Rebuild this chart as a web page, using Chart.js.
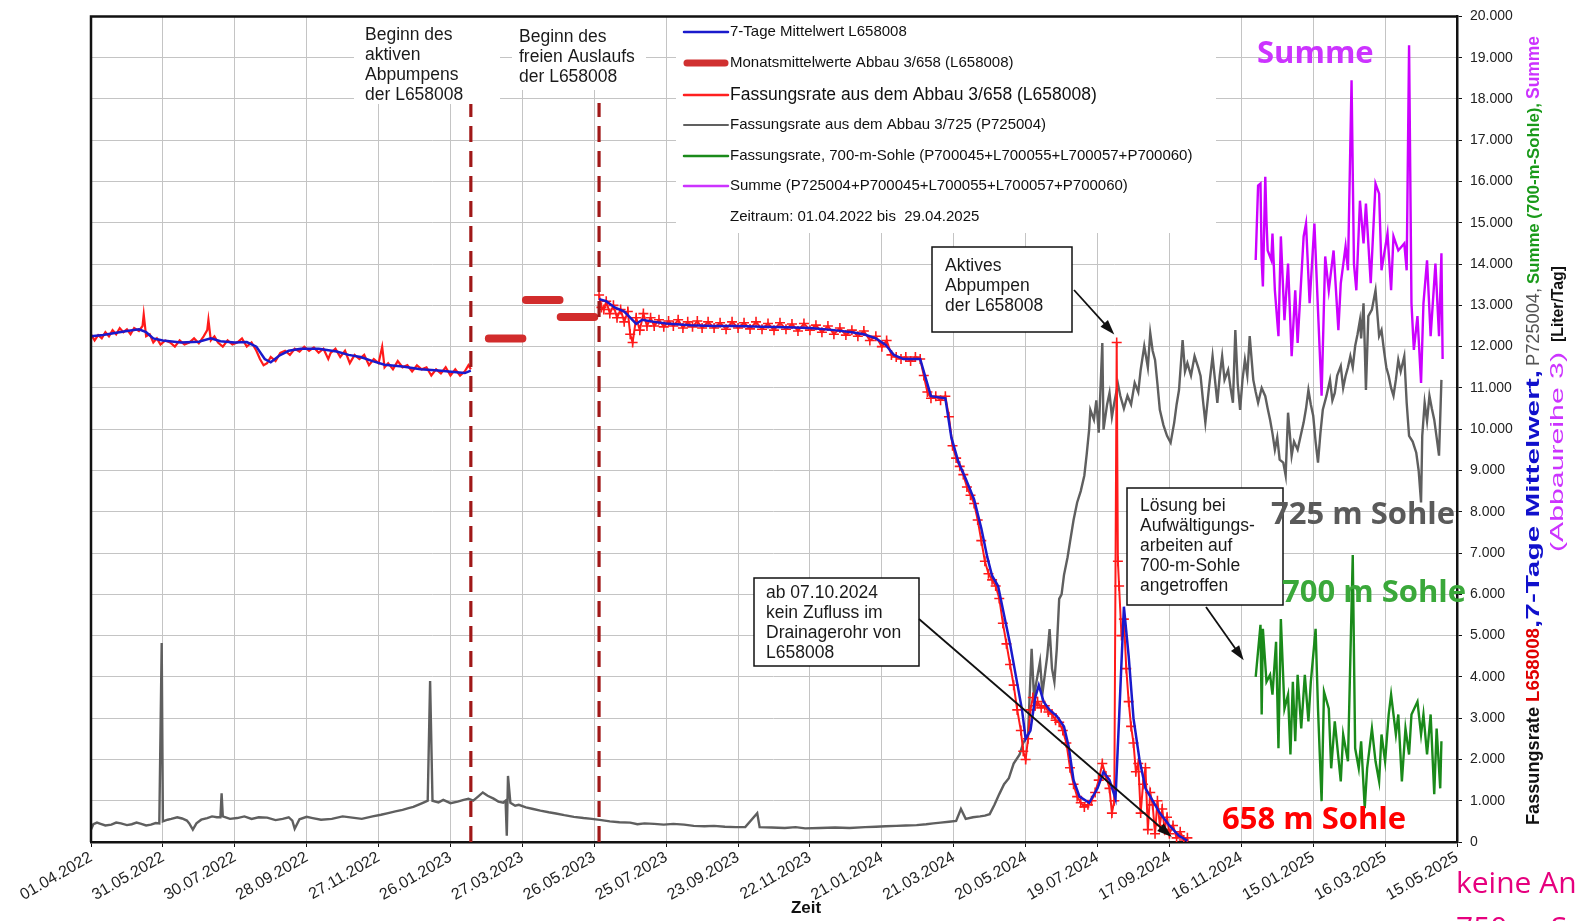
<!DOCTYPE html>
<html>
<head>
<meta charset="utf-8">
<script src="https://cdn.jsdelivr.net/npm/chart.js@4.4.1/dist/chart.umd.min.js"></script>
<style>
  html, body { margin: 0; padding: 0; background: #fff; overflow: hidden; }
  #wrap { width: 1575px; height: 921px; position: relative; overflow: hidden; }
  canvas { display: block; }
</style>
</head>
<body>
<div id="wrap"><canvas id="chart"></canvas></div>
<script>
// x values are days since 01.04.2022
const xTickLabels = ['01.04.2022', '31.05.2022', '30.07.2022', '28.09.2022', '27.11.2022', '26.01.2023',
  '27.03.2023', '26.05.2023', '25.07.2023', '23.09.2023', '22.11.2023', '21.01.2024', '21.03.2024',
  '20.05.2024', '19.07.2024', '17.09.2024', '16.11.2024', '15.01.2025', '16.03.2025', '15.05.2025']

const markerDays = [317, 424]

const redEarly = [[0,12300],[3,12150],[6,12280],[9,12200],[12,12350],[15,12250],[18,12400],[21,12300],
  [24,12450],[27,12350],[30,12420],[33,12300],[36,12450],[40,12380],[43,12500],[44,12780],[46,12250],
  [49,12300],[52,12100],[55,12200],[58,12050],[62,12150],[66,12100],[70,12000],[74,12150],[78,12050],
  [82,12100],[86,12200],[90,12080],[94,12250],[97,12400],[98,12650],[100,12150],[103,12250],[106,12100],
  [110,12000],[114,12150],[118,12050],[122,12100],[126,12200],[130,12000],[134,12100],[138,11900],
  [141,11700],[144,11550],[147,11600],[150,11750],[154,11650],[158,11850],[162,11900],[166,11800],
  [170,11950],[174,11880],[178,12000],[182,11900],[186,11980],[190,11850],[194,11950],[198,11700],
  [200,11850],[204,11950],[208,11750],[212,11900],[216,11600],[220,11800],[224,11700],[228,11800],
  [232,11550],[236,11700],[240,11600],[243,12000],[245,11500],[248,11600],[252,11450],[256,11650],
  [260,11500],[264,11550],[268,11400],[272,11550],[276,11450],[280,11500],[284,11300],[288,11450],
  [292,11350],[296,11500],[300,11300],[304,11450],[308,11300],[312,11400],[315,11550],[317,11450]]

const redLate = [[424,13250],[426,12950],[428,12900],[430,13100],[433,12800],[436,13000],[439,12700],
  [442,12900],[445,12600],[448,12850],[450,12300],[452,12100],[455,12700],[458,12400],[461,12800],
  [464,12500],[467,12700],[470,12500],[474,12650],[478,12480],[482,12620],[486,12500],[490,12650],
  [494,12450],[498,12600],[502,12480],[506,12620],[510,12450],[515,12600],[520,12450],[525,12580],
  [530,12420],[535,12600],[540,12450],[545,12580],[550,12430],[555,12600],[560,12420],[565,12560],
  [570,12400],[575,12580],[580,12420],[585,12550],[590,12380],[595,12560],[600,12400],[605,12520],
  [610,12350],[615,12500],[620,12300],[625,12450],[630,12280],[635,12400],[640,12250],[645,12380],
  [650,12150],[655,12250],[660,12000],[664,12150],[668,11800],[672,11750],[676,11700],[680,11750],
  [684,11650],[688,11750],[692,11700],[695,11300],[698,10900],[701,10750],[705,10800],[709,10700],
  [713,10800],[716,10300],[719,9600],[722,9300],[725,9100],[728,8900],[731,8600],[734,8400],[737,8200],
  [740,7800],[743,7300],[746,6800],[749,6500],[752,6350],[755,6200],[758,5900],[761,5300],[764,4800],
  [767,4300],[770,3800],[773,3200],[776,2700],[778,2200],[780,2000],[782,2500],[784,3200],[786,3500],
  [788,3300],[790,3400],[793,3250],[796,3300],[799,3150],[802,3100],[805,2950],[808,2900],[811,2700],
  [814,2400],[817,1800],[820,1400],[823,1100],[826,950],[829,850],[832,900],[835,1000],[838,1200],
  [841,1500],[844,1900],[847,1600],[850,1300],[852,700],[854,1000],[856,12100],[857,6800],[858,6200],
  [860,5000],[862,5400],[864,4200],[866,3400],[868,2800],[870,2400],[872,1700],[874,1900],[876,700],
  [878,1400],[880,1800],[882,300],[884,1200],[886,900],[888,200],[890,1000],[892,400],[894,800],
  [896,300],[898,600],[900,200],[903,400],[906,100],[909,250],[912,50],[915,100]]

const blueAvg = [[0,12250],[10,12280],[20,12330],[30,12380],[40,12420],[46,12350],[52,12200],[60,12150],
  [75,12100],[90,12120],[100,12200],[108,12130],[120,12100],[130,12110],[138,12000],[145,11700],
  [150,11620],[157,11780],[165,11900],[175,11950],[190,11950],[205,11880],[215,11800],[225,11750],
  [235,11650],[245,11560],[260,11520],[275,11450],[290,11420],[305,11380],[312,11360],[317,11420],
  [null,null],
  [424,13150],[430,13100],[437,12950],[445,12850],[450,12700],[455,12550],[460,12650],[470,12600],
  [480,12560],[500,12520],[520,12500],[540,12500],[560,12480],[580,12470],[600,12450],[620,12400],
  [635,12350],[645,12300],[655,12200],[663,12050],[670,11800],[678,11700],[692,11700],[696,11300],
  [701,10800],[713,10750],[718,9800],[724,9200],[730,8800],[737,8300],[743,7600],[748,6900],[752,6450],
  [757,6200],[762,5500],[767,4800],[772,4000],[777,3200],[780,2500],[784,2700],[788,3500],[791,3800],
  [795,3400],[800,3200],[806,3050],[812,2800],[816,2300],[820,1500],[825,1100],[833,950],[840,1300],
  [845,1700],[850,1500],[855,1050],[858,3000],[862,5700],[866,4500],[870,3000],[875,2000],[880,1300],
  [886,1000],[892,700],[900,400],[908,150],[915,30]]

// [from day, to day, value]
const monthlyMean = [[332,360,12200],[363,391,13130],[392,420,12720]]

const greyP725004 = [[0,300],[2,430],[5,470],[8,440],[12,400],[17,420],[21,470],[25,450],[30,410],
  [34,430],[38,470],[42,440],[46,400],[50,420],[54,460],[57,450],[59,4820],[60,500],[64,540],[67,560],
  [72,600],[76,570],[80,520],[82,450],[85,300],[88,450],[92,540],[97,580],[101,620],[105,600],[108,600],
  [109,1180],[110,620],[116,560],[122,580],[128,620],[134,560],[140,600],[147,590],[154,530],[160,560],
  [165,600],[168,520],[170,320],[174,550],[180,610],[185,580],[192,540],[201,560],[210,620],[218,590],
  [226,560],[235,620],[242,660],[248,700],[254,740],[260,780],[265,820],[269,850],[273,900],[277,950],
  [281,1000],[283,3900],[285,1000],[290,960],[294,1020],[300,940],[306,980],[311,1020],[315,1050],
  [319,1000],[323,1100],[327,1200],[331,1120],[336,1050],[340,980],[344,950],[346,1000],[347,150],
  [348,1600],[350,950],[354,880],[357,900],[363,840],[369,800],[375,760],[382,720],[388,690],[395,650],
  [403,610],[411,580],[418,560],[426,530],[433,500],[441,480],[450,470],[456,430],[462,450],[470,440],
  [478,420],[486,440],[495,420],[503,390],[512,380],[520,390],[529,370],[538,360],[546,360],[556,700],
  [558,360],[568,350],[579,340],[588,360],[596,330],[608,340],[621,350],[633,340],[646,360],[655,370],
  [663,380],[672,390],[680,400],[689,410],[697,430],[703,450],[709,470],[716,490],[722,510],[726,800],
  [730,560],[736,600],[742,620],[746,640],[750,675],[754,900],[758,1160],[762,1400],[766,1545],
  [770,1900],[775,2120],[778,2400],[782,2605],[785,4680],[787,3500],[789,3880],[792,4370],[794,3600],
  [796,4050],[798,4500],[800,5160],[802,4200],[804,3880],[806,4680],[808,5890],[810,6000],[812,6465],
  [815,6900],[817,7260],[820,7800],[823,8225],[826,8500],[829,8880],[831,9400],[833,9990],[834,10470],
  [837,10230],[839,10700],[841,9915],[844,12090],[845,9990],[848,10600],[850,10880],[852,10300],
  [854,10640],[857,11100],[859,10810],[862,10500],[865,10810],[868,10600],[871,11120],[874,10900],
  [876,11435],[879,12015],[882,11500],[884,12330],[886,11900],[888,11680],[890,11100],[892,10470],
  [895,10100],[898,9840],[901,9675],[904,10160],[906,10600],[908,10950],[911,12160],[913,11400],
  [915,11600],[918,11300],[921,11770],[924,11500],[926,11290],[928,10700],[930,10160],[933,11000],
  [936,11770],[938,11200],[940,10640],[942,11300],[944,11770],[946,11200],[949,11435],[951,11000],
  [953,10640],[955,12400],[957,11100],[959,10470],[961,11200],[963,11680],[965,11300],[967,12255],
  [970,11195],[972,10900],[974,10640],[977,11000],[980,10800],[982,10500],[984,10230],[986,9900],
  [988,9505],[990,9800],[992,9265],[995,9190],[997,8880],[999,10400],[1002,9360],[1004,9700],
  [1007,9505],[1010,9900],[1012,10160],[1014,10500],[1016,10950],[1018,10600],[1020,10325],
  [1022,9700],[1024,9190],[1026,9900],[1028,10470],[1031,10800],[1034,11195],[1036,10700],[1038,10880],
  [1040,11300],[1043,11530],[1045,11000],[1047,11290],[1049,11500],[1051,11770],[1053,11500],
  [1055,12015],[1057,12300],[1059,12640],[1060,12200],[1062,13050],[1064,10950],[1066,12740],
  [1069,12900],[1072,13365],[1075,12255],[1077,12400],[1079,11920],[1081,11500],[1083,11290],
  [1085,11000],[1087,10810],[1089,11200],[1091,11680],[1093,11400],[1096,11770],[1098,10640],
  [1100,9840],[1103,9700],[1106,9430],[1108,9000],[1110,8225],[1111,9840],[1113,10640],[1115,10200],
  [1117,10810],[1119,10500],[1121,10230],[1123,9800],[1125,9360],[1127,11195]]

const green700 = [[972,4000],[976,5260],[977,3090],[978,5165],[981,3880],[984,4050],[986,3570],
  [989,4850],[991,2270],[993,5400],[996,3230],[999,3570],[1001,2120],[1003,3880],[1005,2440],[1007,4050],
  [1010,2750],[1013,4050],[1016,2920],[1018,3880],[1022,5165],[1024,3230],[1027,990],[1029,3640],
  [1033,3230],[1035,1785],[1038,2920],[1043,1470],[1045,2605],[1049,1955],[1053,6950],[1055,2270],
  [1058,1785],[1060,2440],[1063,820],[1065,1785],[1069,2750],[1072,1955],[1075,1470],[1077,2605],
  [1080,1955],[1083,3090],[1085,3570],[1089,2605],[1091,3090],[1094,1470],[1097,2750],[1100,2120],
  [1102,3090],[1107,3400],[1110,2605],[1112,3090],[1115,2120],[1118,3090],[1121,1160],[1123,2750],
  [1126,1300],[1127,2440]]

const summe = [[972,14100],[974,15900],[976,15950],[977,14090],[978,13460],[980,16115],[981,15055],
  [982,14330],[985,14100],[986,14740],[988,13365],[991,12255],[993,14670],[996,12640],[999,14015],
  [1002,11770],[1005,13365],[1007,12090],[1012,14670],[1014,14980],[1017,13050],[1021,14980],
  [1024,12880],[1027,10810],[1030,14185],[1033,13365],[1037,14330],[1041,12400],[1043,13535],
  [1047,14425],[1049,13850],[1052,18450],[1054,14000],[1056,13365],[1059,15535],[1062,14500],
  [1064,15465],[1068,13535],[1072,15950],[1075,15705],[1077,13850],[1082,14740],[1085,13365],
  [1087,14670],[1091,14330],[1096,14500],[1098,13850],[1100,19300],[1102,13050],[1104,11920],
  [1107,12740],[1110,11120],[1112,13050],[1115,14090],[1118,12255],[1122,14015],[1125,12255],
  [1127,14260],[1128,11700]]

const FONT = "'Liberation Sans', Arial, sans-serif"
const BIG = "'Open Sans', sans-serif"

const pts = arr => arr.map(p => ({ x: p[0], y: p[1] }))

function monthlyPoints () {
  const out = []
  monthlyMean.forEach(m => {
    out.push({ x: m[0], y: m[2] }, { x: m[1], y: m[2] }, { x: m[1], y: null })
  })
  return out
}

function markerPoints () {
  const out = []
  markerDays.forEach(d => out.push({ x: d, y: 0 }, { x: d, y: 17900 }, { x: d, y: null }))
  return out
}

function line (label, data, color, width, extra) {
  return Object.assign({
    label: label,
    data: data,
    borderColor: color,
    backgroundColor: color,
    borderWidth: width,
    pointRadius: 0,
    tension: 0,
    spanGaps: false
  }, extra || {})
}

function arrow (ctx, x1, y1, x2, y2) {
  const a = Math.atan2(y2 - y1, x2 - x1)
  ctx.beginPath()
  ctx.moveTo(x1, y1)
  ctx.lineTo(x2 - 10 * Math.cos(a), y2 - 10 * Math.sin(a))
  ctx.stroke()
  ctx.beginPath()
  ctx.moveTo(x2, y2)
  ctx.lineTo(x2 - 15 * Math.cos(a) + 5 * Math.sin(a), y2 - 15 * Math.sin(a) - 5 * Math.cos(a))
  ctx.lineTo(x2 - 15 * Math.cos(a) - 5 * Math.sin(a), y2 - 15 * Math.sin(a) + 5 * Math.cos(a))
  ctx.closePath()
  ctx.fill()
}

function textLines (ctx, lines, x, y, step) {
  lines.forEach((t, i) => ctx.fillText(t, x, y + i * step))
}

function box (ctx, x, y, w, h) {
  ctx.fillStyle = '#fff'
  ctx.fillRect(x, y, w, h)
  ctx.strokeStyle = '#111'
  ctx.lineWidth = 1.5
  ctx.strokeRect(x, y, w, h)
}

// vertical text, read bottom to top; each part is stretched to its length
function rotatedRun (ctx, parts, cx, bottom) {
  ctx.save()
  ctx.translate(cx, bottom)
  ctx.rotate(-Math.PI / 2)
  ctx.textBaseline = 'middle'
  ctx.textAlign = 'left'
  let x = 0
  parts.forEach(p => {
    ctx.font = p.font
    ctx.fillStyle = p.color
    const w = ctx.measureText(p.text).width
    ctx.save()
    ctx.translate(x + (p.gap || 0), 0)
    ctx.scale(p.len / w, 1)
    ctx.fillText(p.text, 0, 0)
    ctx.restore()
    x += p.len + (p.gap || 0)
  })
  ctx.restore()
}

const legendRows = [
  { text: '7-Tage Mittelwert L658008', color: '#1a1acc', w: 2.5, size: 15 },
  { text: 'Monatsmittelwerte Abbau 3/658 (L658008)', color: '#d03030', w: 7, size: 15 },
  { text: 'Fassungsrate aus dem Abbau 3/658 (L658008)', color: '#ff2020', w: 2.5, size: 17.5 },
  { text: 'Fassungsrate aus dem Abbau 3/725 (P725004)', color: '#606060', w: 2, size: 15 },
  { text: 'Fassungsrate, 700-m-Sohle (P700045+L700055+L700057+P700060)', color: '#1a8a1a', w: 2.5, size: 15 },
  { text: 'Summe (P725004+P700045+L700055+L700057+P700060)', color: '#cc33ff', w: 2.5, size: 15 },
  { text: 'Zeitraum: 01.04.2022 bis  29.04.2025', color: null, size: 15 }
]
const legendRowY = [32, 63, 95, 125, 156, 186, 217]

const decor = {
  id: 'decor',
  afterDraw (chart) {
    const { ctx, chartArea: a, scales: { x, y } } = chart
    ctx.save()

    // legend
    ctx.fillStyle = '#fff'
    ctx.fillRect(676, 14, 540, 219)
    ctx.textBaseline = 'middle'
    ctx.textAlign = 'left'
    legendRows.forEach((r, i) => {
      const ly = legendRowY[i]
      if (r.color) {
        ctx.strokeStyle = r.color
        ctx.lineWidth = r.w
        ctx.lineCap = 'round'
        ctx.beginPath()
        ctx.moveTo(r.w > 4 ? 687 : 684, ly)
        ctx.lineTo(r.w > 4 ? 725 : 728, ly)
        ctx.stroke()
      }
      ctx.fillStyle = '#111'
      ctx.font = r.size + 'px ' + FONT
      ctx.fillText(r.text, 730, ly)
    })
    ctx.lineCap = 'butt'

    // notes near the dashed markers
    ctx.fillStyle = '#fff'
    ctx.fillRect(354, 14, 146, 90)
    ctx.fillRect(512, 14, 134, 76)
    ctx.fillStyle = '#1a1a1a'
    ctx.font = '17.5px ' + FONT
    textLines(ctx, ['Beginn des', 'aktiven', 'Abpumpens', 'der L658008'], 365, 35, 20)
    textLines(ctx, ['Beginn des', 'freien Auslaufs', 'der L658008'], 519, 37, 20)

    // frame left / top
    ctx.strokeStyle = '#111'
    ctx.lineWidth = 2.5
    ctx.beginPath()
    ctx.moveTo(a.left, a.bottom)
    ctx.lineTo(a.left, a.top)
    ctx.lineTo(a.right, a.top)
    ctx.stroke()

    // boxed notes
    box(ctx, 932, 247, 140, 85)
    box(ctx, 1127, 488, 156, 117)
    box(ctx, 754, 578, 165, 88)
    ctx.fillStyle = '#1a1a1a'
    textLines(ctx, ['Aktives', 'Abpumpen', 'der L658008'], 945, 266, 20)
    textLines(ctx, ['Lösung bei', 'Aufwältigungs-', 'arbeiten auf', '700-m-Sohle', 'angetroffen'], 1140, 506, 20)
    textLines(ctx, ['ab 07.10.2024', 'kein Zufluss im', 'Drainagerohr von', 'L658008'], 766, 593, 20)

    ctx.strokeStyle = '#111'
    ctx.fillStyle = '#111'
    ctx.lineWidth = 1.8
    arrow(ctx, 1074, 290, x.getPixelForValue(854), y.getPixelForValue(12100) - 8)
    arrow(ctx, 1206, 607, x.getPixelForValue(962), y.getPixelForValue(4400))
    arrow(ctx, 919, 619, x.getPixelForValue(902), y.getPixelForValue(120))

    // level labels
    ctx.font = 'bold 31px ' + BIG
    ctx.fillStyle = '#cc33ff'
    ctx.fillText('Summe', 1257, 54)
    ctx.fillStyle = '#5a5a5a'
    ctx.fillText('725 m Sohle', 1271, 515)
    ctx.fillStyle = '#3aa83a'
    ctx.fillText('700 m Sohle', 1282, 593)
    ctx.fillStyle = '#ff0000'
    ctx.fillText('658 m Sohle', 1222, 820)
    ctx.font = '30px ' + BIG
    ctx.fillStyle = '#e6007e'
    ctx.fillText('keine Angaben', 1456, 884)
    ctx.fillText('750 m Sohle', 1456, 929)

    // x axis title
    ctx.font = 'bold 17px ' + FONT
    ctx.fillStyle = '#111'
    ctx.textAlign = 'center'
    ctx.fillText('Zeit', 806, 908)
    ctx.textAlign = 'left'

    // right axis title
    rotatedRun(ctx, [
      { text: 'Fassungsrate', font: 'bold 18px ' + FONT, color: '#111', len: 118 },
      { text: 'L658008', font: 'bold 18px ' + FONT, color: '#e00000', len: 74, gap: 5 },
      { text: ',7-Tage Mittelwert,', font: 'bold 19px ' + FONT, color: '#1010cc', len: 258 },
      { text: 'P725004,', font: '18px ' + FONT, color: '#555', len: 78, gap: 4 },
      { text: 'Summe (700-m-Sohle),', font: 'bold 17px ' + FONT, color: '#1a9a1a', len: 181, gap: 4 },
      { text: 'Summe', font: 'bold 18px ' + FONT, color: '#cc33ff', len: 63, gap: 4 }
    ], 1534, 825)
    rotatedRun(ctx, [
      { text: '(Abbaureihe 3)', font: '19px ' + FONT, color: '#cc33ff', len: 200 },
      { text: '[Liter/Tag]', font: 'bold 17px ' + FONT, color: '#111', len: 76, gap: 10 }
    ], 1558, 552)

    ctx.restore()
  }
}

const datasets = [
  line('Beginn', markerPoints(), '#a01818', 3.2, { borderDash: [16, 9] }),
  line('7-Tage Mittelwert L658008', pts(blueAvg), '#1a1acc', 2.5),
  line('Fassungsrate aus dem Abbau 3/658 (L658008)', pts(redLate), '#ff1a1a', 2, {
    pointStyle: 'cross', pointRadius: 5, pointBorderWidth: 1.6, pointBorderColor: '#ff1a1a'
  }),
  line('Fassungsrate aus dem Abbau 3/658 (L658008)', pts(redEarly), '#ff1a1a', 2.2),
  line('Monatsmittelwerte Abbau 3/658 (L658008)', monthlyPoints(), '#d22c2c', 8, { borderCapStyle: 'round' }),
  line('Summe (P725004+P700045+L700055+L700057+P700060)', pts(summe), '#cc00ff', 2.4),
  line('Fassungsrate, 700-m-Sohle (P700045+L700055+L700057+P700060)', pts(green700), '#1a8a1a', 2.4),
  line('Fassungsrate aus dem Abbau 3/725 (P725004)', pts(greyP725004), '#5f5f5f', 2.4)
]

new Chart(document.getElementById('chart'), {
  type: 'line',
  data: { datasets: datasets },
  options: {
    responsive: true,
    maintainAspectRatio: false,
    animation: false,
    layout: { autoPadding: false, padding: { left: 91, top: 12, right: 0, bottom: 0 } },
    plugins: {
      legend: { display: false },
      tooltip: { enabled: false }
    },
    scales: {
      x: {
        type: 'linear',
        min: 0,
        max: 1140,
        afterFit: s => { s.height = 79 },
        border: { color: '#111', width: 2.5 },
        grid: { color: '#c4c4c4', lineWidth: 1, tickLength: 5, tickColor: '#111' },
        ticks: {
          stepSize: 60,
          autoSkip: false,
          maxRotation: 30,
          minRotation: 30,
          padding: 1,
          color: '#222',
          font: { family: FONT, size: 16 },
          callback: (v, i) => xTickLabels[i]
        }
      },
      y: {
        type: 'linear',
        position: 'right',
        min: 0,
        max: 20000,
        afterFit: s => { s.width = 118 },
        border: { color: '#111', width: 2.5 },
        grid: { color: '#c4c4c4', lineWidth: 1, tickLength: 5, tickColor: '#111' },
        ticks: {
          stepSize: 1000,
          padding: 8,
          color: '#222',
          font: { family: FONT, size: 14 },
          callback: v => v === 0 ? '0' : (v / 1000) + '.000'
        }
      }
    }
  },
  plugins: [decor]
})
</script>
</body>
</html>
